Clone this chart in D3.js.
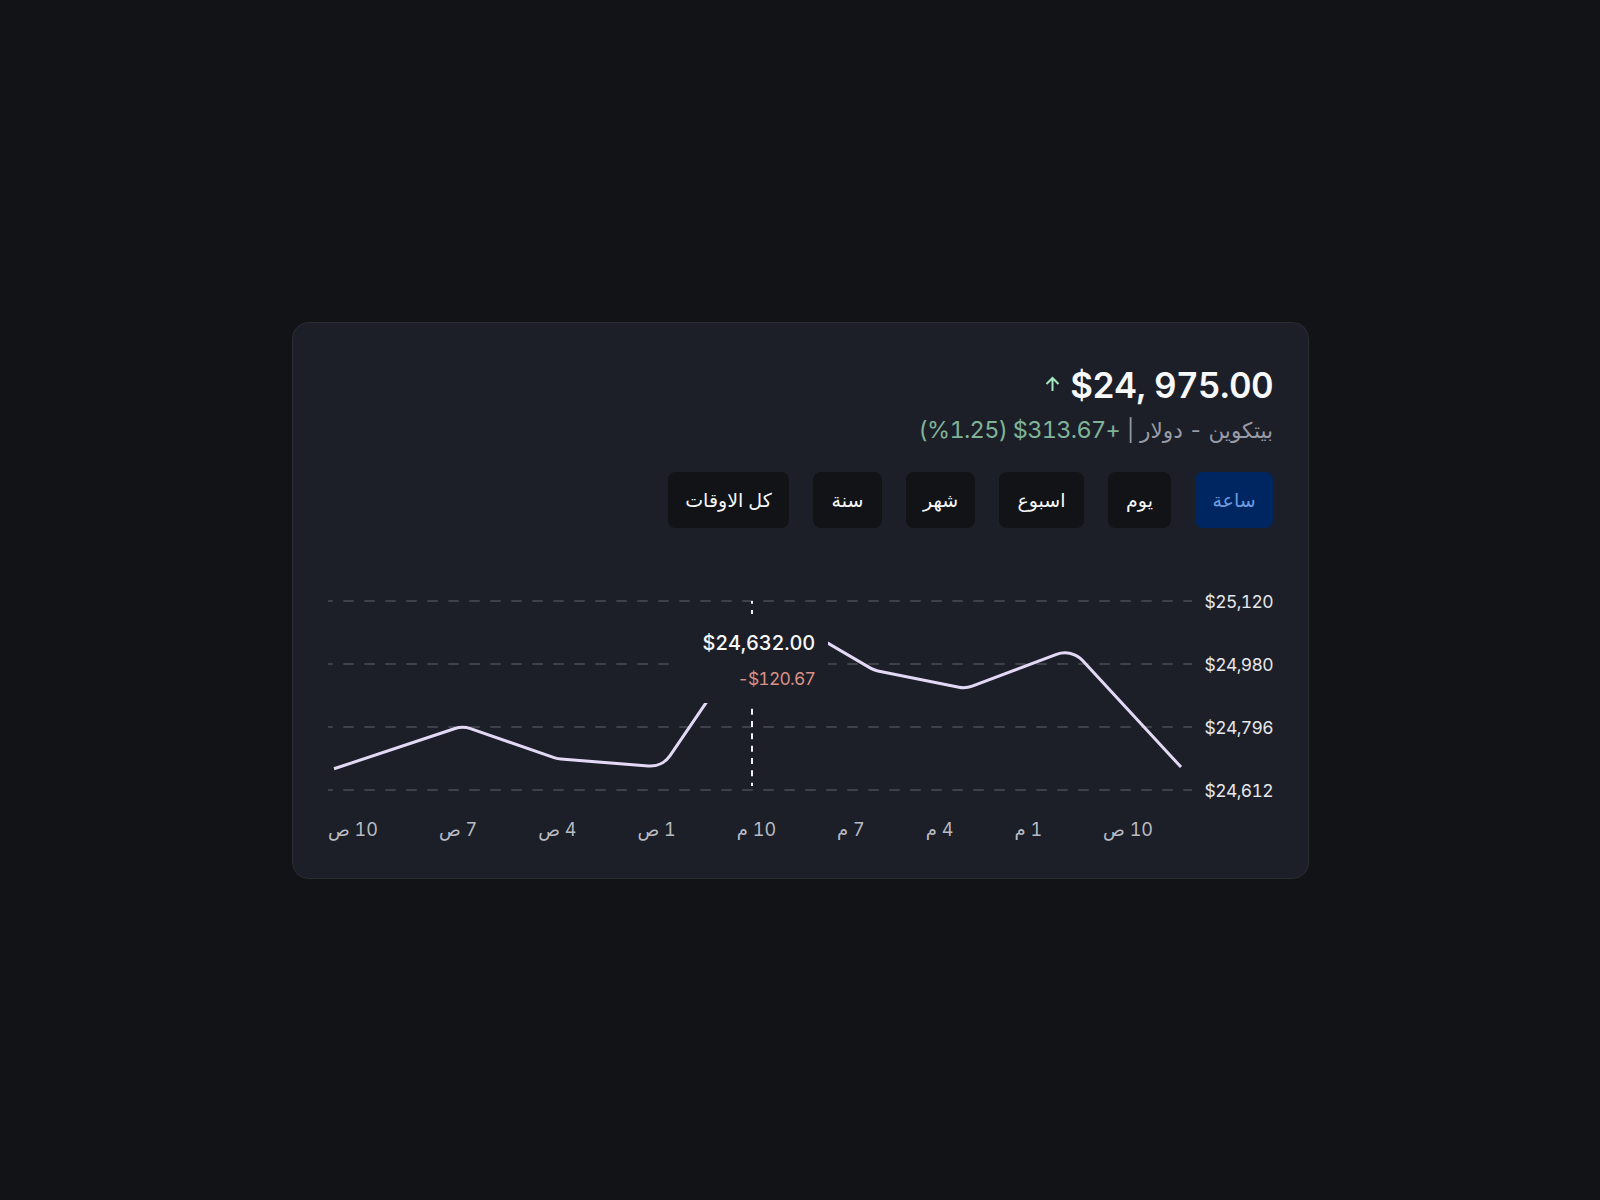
<!DOCTYPE html>
<html lang="ar">
<head>
<meta charset="UTF-8">
<title>بيتكوين</title>
<script src="https://d3js.org/d3.v7.min.js"></script>
<style>
  body, html { margin: 0; padding: 0; background: #111317; }
  svg { display: block; font-family: "Inter", "Noto Sans", "DejaVu Sans", sans-serif; font-feature-settings: "tnum"; }
</style>
</head>
<body>
<div id="chart"></div>
<script>
// values
const priceTicks = [24612, 24796, 24980, 25120];
const timeLabels = ["10 ص", "7 ص", "4 ص", "1 ص", "10 م", "7 م", "4 م", "1 م", "10 ص"];
const pointHours = [0, 3.65, 6.34, 9.3, 12.35, 15.3, 17.9, 20.9, 24];
const pointPrices = [24674, 24799, 24703, 24679, 25102, 24962, 24908, 25014, 24679];
const rangeButtons = ["ساعة", "يوم", "اسبوع", "شهر", "سنة", "كل الاوقات"];
const buttonWidths = [78, 63, 85, 69, 69, 121];
const headlinePrice = "$24, 975.00";
const subtitleName = "بيتكوين  - دولار |";
const subtitleChange = "(%1.25) $313.67+";
const cursorPrice = "$24,632.00";
const cursorChange = "-$120.67";

const width = 1600, height = 1200;
const right = 1272;

const svg = d3.select("#chart").append("svg")
  .attr("width", width)
  .attr("height", height);

svg.append("rect")
  .attr("x", 292.5).attr("y", 322.5)
  .attr("width", 1016).attr("height", 556)
  .attr("rx", 16)
  .attr("fill", "#1c1f27")
  .attr("stroke", "#2a2d34");

// header
svg.append("text")
  .attr("x", right + 1).attr("y", 397.5)
  .attr("text-anchor", "end")
  .attr("font-size", 35).attr("font-weight", 600)
  .attr("letter-spacing", -0.6)
  .attr("fill", "#f7f8fa")
  .text(headlinePrice);

svg.append("path")
  .attr("d", "M1052.5 391V378M1046.5 384L1052.5 378L1058.5 384")
  .attr("fill", "none")
  .attr("stroke", "#a5e8c0")
  .attr("stroke-width", 2);

svg.append("text")
  .attr("x", right + 1).attr("y", 438)
  .attr("font-size", 21.6)
  .attr("fill", "#989aa6")
  .attr("direction", "rtl")
  .text(subtitleName);

svg.append("text")
  .attr("x", 1120).attr("y", 438)
  .attr("text-anchor", "end")
  .attr("font-size", 23.5)
  .attr("letter-spacing", -0.7)
  .attr("fill", "#7fb398")
  .text(subtitleChange);

// range buttons, laid out from the right edge
let bx = right + 1;
rangeButtons.forEach((label, i) => {
  bx -= buttonWidths[i];
  svg.append("rect")
    .attr("x", bx).attr("y", 472)
    .attr("width", buttonWidths[i]).attr("height", 56)
    .attr("rx", 8)
    .attr("fill", i === 0 ? "#002661" : "#111317");
  svg.append("text")
    .attr("x", bx + buttonWidths[i] / 2).attr("y", 507)
    .attr("text-anchor", "middle")
    .attr("font-size", 19)
    .attr("fill", i === 0 ? "#6f9ae0" : "#f7f8fa")
    .text(label);
  bx -= 24;
});

// scales
const x = d3.scaleLinear().domain([0, 24]).range([334, 1181]);
const y = d3.scaleLinear().domain(priceTicks).range([790, 727, 664, 601]);

// grid
svg.append("g").selectAll("line")
  .data(priceTicks)
  .enter().append("line")
  .attr("x1", 328).attr("x2", 1192)
  .attr("y1", d => y(d)).attr("y2", d => y(d))
  .attr("stroke", "#3e4147")
  .attr("stroke-width", 2)
  .attr("stroke-dasharray", "10.5 10.5")
  .attr("stroke-dashoffset", 5.7);

svg.append("g").selectAll("text")
  .data(priceTicks)
  .enter().append("text")
  .attr("x", right + 1)
  .attr("y", d => y(d) + 7)
  .attr("text-anchor", "end")
  .attr("font-size", 17.5)
  .attr("letter-spacing", -0.6)
  .attr("fill", "#e6e7ea")
  .text(d => "$" + d3.format(",")(d));

// price line with rounded corners
const points = pointHours.map((h, i) => [x(h), y(pointPrices[i])]);
const path = d3.path();
path.moveTo(points[0][0], points[0][1]);
for (let i = 1; i < points.length - 1; i++) {
  path.arcTo(points[i][0], points[i][1], points[i + 1][0], points[i + 1][1], 24);
}
path.lineTo(points[points.length - 1][0], points[points.length - 1][1]);
svg.append("path")
  .attr("d", path.toString())
  .attr("fill", "none")
  .attr("stroke", "#e3d9f7")
  .attr("stroke-width", 3);

// cursor + tooltip
svg.append("line")
  .attr("x1", 752).attr("x2", 752)
  .attr("y1", 601).attr("y2", 786)
  .attr("stroke", "#f0eefa")
  .attr("stroke-width", 2)
  .attr("stroke-dasharray", "6 6.33")
  .attr("stroke-dashoffset", 3.3);

svg.append("rect")
  .attr("x", 670).attr("y", 614)
  .attr("width", 158).attr("height", 89)
  .attr("fill", "#1c1f27");

svg.append("text")
  .attr("x", 815).attr("y", 650)
  .attr("text-anchor", "end")
  .attr("font-size", 20).attr("font-weight", 500)
  .attr("letter-spacing", -0.2)
  .attr("fill", "#f7f8fa")
  .text(cursorPrice);

svg.append("text")
  .attr("x", 815).attr("y", 685)
  .attr("text-anchor", "end")
  .attr("font-size", 17.5)
  .attr("letter-spacing", -0.8)
  .attr("fill", "#d99089")
  .text(cursorChange);

// time labels: first and last pinned, equal gaps between them
const labels = svg.append("g").selectAll("text")
  .data(timeLabels)
  .enter().append("text")
  .attr("y", 836)
  .attr("font-size", 18)
  .attr("direction", "rtl")
  .attr("fill", "#b9bbc3")
  .text(d => d);
const widths = labels.nodes().map(n => n.getComputedTextLength());
const gap = (1153 - 328 - d3.sum(widths)) / (timeLabels.length - 1);
let lx = 328;
labels.attr("x", (d, i) => {
  const at = lx + widths[i];
  lx += widths[i] + gap;
  return at;
});
</script>
</body>
</html>
